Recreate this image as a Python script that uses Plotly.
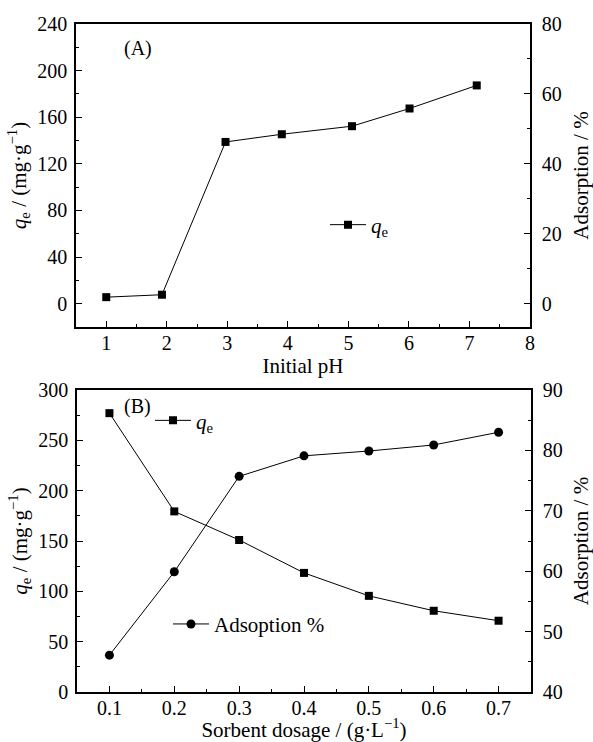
import plotly.graph_objects as go

# ---- data ----
ph = [1.0, 1.92, 2.97, 3.90, 5.06, 6.01, 7.12]
qe_ph = [5.6, 7.7, 138.8, 145.4, 152.3, 167.5, 187.3]

dosage = [0.1, 0.2, 0.3, 0.4, 0.5, 0.6, 0.7]
qe_dose = [277.0, 179.4, 151.0, 118.3, 95.5, 80.7, 70.8]
ads_dose = [46.1, 59.9, 75.7, 79.1, 79.9, 80.9, 83.0]

W, H = 593, 742
def px(x):
    return x / W
def py(y):
    return 1 - y / H

FONT = "Liberation Serif, Times New Roman, serif"
TICK = 20
TITLE = 21

fig = go.Figure()
fig.add_trace(go.Scatter(x=ph, y=qe_ph, mode="lines+markers",
                         name="<i>q</i><sub>e</sub>",
                         line=dict(color="black", width=1),
                         marker=dict(symbol="square", size=8, color="black"),
                         xaxis="x", yaxis="y", legend="legend", showlegend=True))
# empty trace so the right-hand axis of panel A is drawn
fig.add_trace(go.Scatter(x=[], y=[], mode="lines", showlegend=False, hoverinfo="skip",
                         xaxis="x", yaxis="y2"))
fig.add_trace(go.Scatter(x=dosage, y=qe_dose, mode="lines+markers",
                         name="<i>q</i><sub>e</sub>",
                         line=dict(color="black", width=1),
                         marker=dict(symbol="square", size=8, color="black"),
                         xaxis="x2", yaxis="y3", legend="legend2", showlegend=True))
fig.add_trace(go.Scatter(x=dosage, y=ads_dose, mode="lines+markers",
                         name="Adsoption %",
                         line=dict(color="black", width=1),
                         marker=dict(symbol="circle", size=9, color="black"),
                         xaxis="x2", yaxis="y4", legend="legend3", showlegend=True))

def ax(**kw):
    base = dict(showline=True, linewidth=1.5, linecolor="black",
                ticks="inside", ticklen=6, tickwidth=1.2, tickcolor="black",
                showgrid=False, zeroline=False, automargin=False,
                tickfont=dict(family=FONT, size=TICK, color="black"),
                title_font=dict(family=FONT, size=TITLE, color="black"))
    base.update(kw)
    return base

minor = lambda d: dict(ticks="inside", ticklen=3, tickwidth=1.2, tickcolor="black", dtick=d, showgrid=False)

leg = lambda x, y: dict(x=px(x), y=py(y), xanchor="left", yanchor="middle", itemwidth=36,
                        bgcolor="rgba(0,0,0,0)", font=dict(family=FONT, size=TITLE))

fig.update_layout(
    width=W, height=H,
    margin=dict(l=0, r=0, t=0, b=0, autoexpand=False),
    paper_bgcolor="white", plot_bgcolor="white",
    showlegend=True,
    font=dict(family=FONT, size=TICK, color="black"),
    xaxis=ax(domain=[px(76), px(530)], anchor="y", range=[0.5, 8], dtick=1, tick0=0,
             mirror=True, minor=minor(0.5), ticklabelstandoff=-3,
             title=dict(text="Initial pH", standoff=1)),
    yaxis=ax(domain=[py(327), py(24)], anchor="x", range=[-20, 240], dtick=40, tick0=0,
             minor=minor(20), ticklabelstandoff=3,
             title=dict(text="<i>q</i><sub>e</sub> / (mg·g<sup>−1</sup>)", standoff=5)),
    yaxis2=ax(overlaying="y", side="right", anchor="x", range=[-20 / 3, 80], dtick=20, tick0=0,
              minor=minor(10), ticklabelstandoff=6,
              title=dict(text="Adsorption / %", standoff=15)),
    xaxis2=ax(domain=[px(77), px(531)], anchor="y3", range=[0.05, 0.75], dtick=0.1, tick0=0,
              tickformat=".1f", mirror=True, minor=minor(0.05), ticklabelstandoff=-3,
              title=dict(text="Sorbent dosage / (g·L<sup>−1</sup>)", standoff=7)),
    yaxis3=ax(domain=[py(692), py(390)], anchor="x2", range=[0, 300], dtick=50, tick0=0,
              minor=minor(25), ticklabelstandoff=3,
              title=dict(text="<i>q</i><sub>e</sub> / (mg·g<sup>−1</sup>)", standoff=5)),
    yaxis4=ax(overlaying="y3", side="right", anchor="x2", range=[40, 90], dtick=10, tick0=0,
              minor=minor(5), ticklabelstandoff=6,
              title=dict(text="Adsorption / %", standoff=15)),
    legend=leg(325, 225),
    legend2=leg(150, 420.7),
    legend3=leg(168, 624.3),
    annotations=[
        dict(text="(A)", x=px(138), y=py(49), xref="paper", yref="paper",
             xanchor="center", yanchor="middle",
             showarrow=False, font=dict(family=FONT, size=TICK)),
        dict(text="(B)", x=px(137.5), y=py(407), xref="paper", yref="paper",
             xanchor="center", yanchor="middle",
             showarrow=False, font=dict(family=FONT, size=TICK)),
    ],
)

fig.write_html("out.html", config={"displayModeBar": False},
               post_script="document.body.style.margin='0';document.body.style.padding='0';"
                           "document.body.style.overflow='hidden';")
